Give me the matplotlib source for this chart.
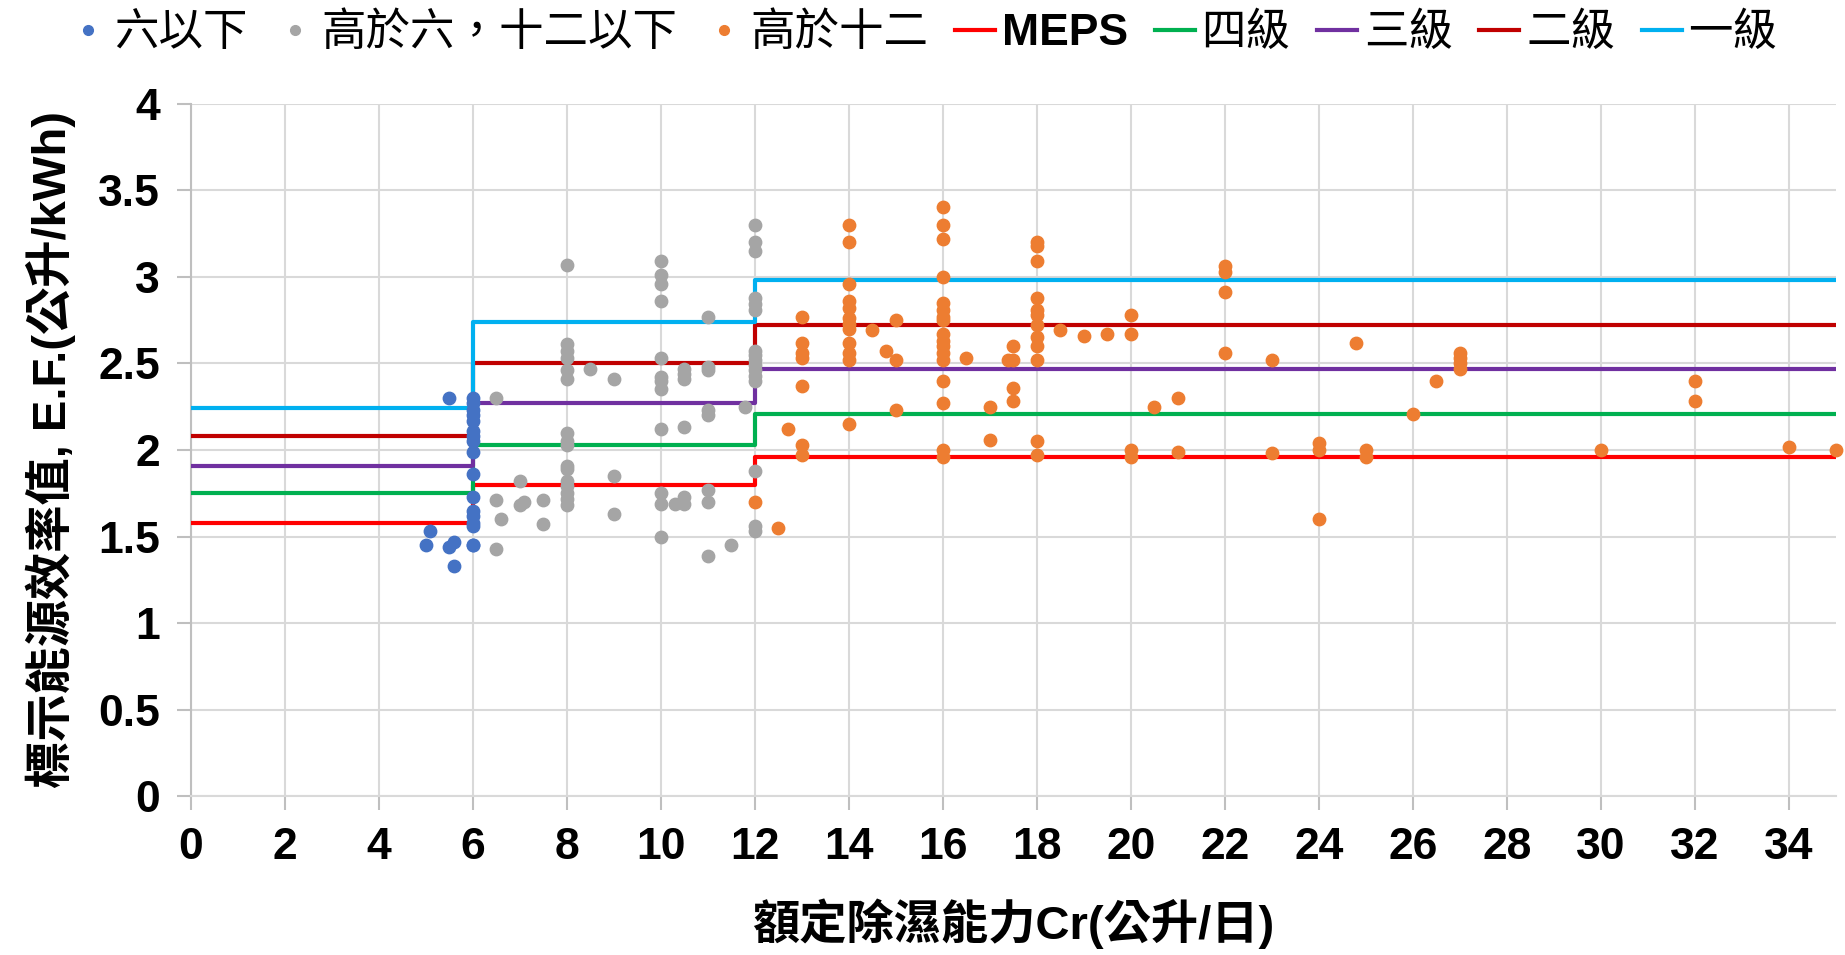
import matplotlib
matplotlib.use('Agg')
import matplotlib.pyplot as plt
from matplotlib.lines import Line2D

plt.rcParams['font.family'] = ['Liberation Sans', 'Noto Sans CJK TC', 'DejaVu Sans']

# capacity bands (公升/日) and efficiency thresholds
band_edges = [0, 6, 12, 35]
meps = [1.58, 1.80, 1.96]
level4 = [1.75, 2.03, 2.21]
level3 = [1.91, 2.27, 2.47]
level2 = [2.08, 2.50, 2.72]
level1 = [2.24, 2.74, 2.98]

# 六以下
low_x = [5.5, 6, 6, 6, 6, 6, 6, 6, 6, 6, 6, 6, 6, 6, 6, 6, 6, 6,
         5.1, 5.0, 5.6, 5.5, 5.6]
low_y = [2.30, 2.30, 2.27, 2.23, 2.20, 2.17, 2.11, 2.08, 2.05, 1.99, 1.86, 1.73,
         1.65, 1.62, 1.58, 1.56, 1.45, 1.45,
         1.53, 1.45, 1.47, 1.44, 1.33]

# 高於六，十二以下
mid_x = [6.5, 7.0, 6.5, 6.6, 7.0, 7.1, 7.5, 7.5, 6.5,
         8, 8, 8, 8, 8, 8, 8, 8, 8, 8, 8, 8, 8, 8, 8, 8,
         8.5, 9.0, 9.0, 9.0,
         10, 10, 10, 10, 10, 10, 10, 10, 10, 10, 10, 10,
         10.3, 10.5, 10.5, 10.5, 10.5, 10.5, 10.5,
         11, 11, 11, 11, 11, 11, 11, 11,
         11.5, 11.8,
         12, 12, 12, 12, 12, 12, 12, 12, 12, 12, 12, 12, 12, 12, 12, 12]
mid_y = [2.30, 1.82, 1.71, 1.60, 1.68, 1.70, 1.71, 1.57, 1.43,
         3.07, 2.61, 2.57, 2.53, 2.46, 2.41, 2.10, 2.05, 2.03, 1.91, 1.89, 1.82,
         1.79, 1.75, 1.72, 1.68,
         2.47, 2.41, 1.85, 1.63,
         3.09, 3.01, 2.96, 2.86, 2.53, 2.42, 2.40, 2.35, 2.12, 1.75, 1.69, 1.50,
         1.69, 2.47, 2.44, 2.41, 2.13, 1.73, 1.69,
         2.77, 2.48, 2.46, 2.23, 2.20, 1.77, 1.70, 1.39,
         1.45, 2.25,
         3.30, 3.20, 3.15, 2.88, 2.84, 2.81, 2.57, 2.55, 2.52, 2.49, 2.46, 2.43,
         2.40, 1.88, 1.56, 1.53]

# 高於十二
high_x = [12, 12.5, 12.7,
          13, 13, 13, 13, 13, 13, 13,
          14, 14, 14, 14, 14, 14, 14, 14, 14, 14, 14, 14,
          14.5, 14.8, 15, 15, 15,
          16, 16, 16, 16, 16, 16, 16, 16, 16, 16, 16, 16, 16, 16, 16, 16, 16,
          16.5, 17, 17, 17.4, 17.5, 17.5, 17.5, 17.5,
          18, 18, 18, 18, 18, 18, 18, 18, 18, 18, 18, 18,
          18.5, 19, 19.5, 20, 20, 20, 20, 20.5, 21, 21,
          22, 22, 22, 22, 23, 23, 24, 24, 24, 24.8, 25, 25,
          26, 26.5, 27, 27, 27, 27, 30, 32, 32, 34, 35]
high_y = [1.70, 1.55, 2.12,
          2.77, 2.62, 2.56, 2.53, 2.37, 2.03, 1.97,
          3.30, 3.20, 2.96, 2.86, 2.82, 2.76, 2.73, 2.70, 2.62, 2.56, 2.52, 2.15,
          2.69, 2.57, 2.75, 2.52, 2.23,
          3.40, 3.30, 3.22, 3.00, 2.85, 2.81, 2.77, 2.75, 2.67, 2.63, 2.60, 2.56,
          2.52, 2.40, 2.27, 2.00, 1.96,
          2.53, 2.25, 2.06, 2.52, 2.60, 2.52, 2.36, 2.28,
          3.20, 3.18, 3.09, 2.88, 2.81, 2.78, 2.72, 2.65, 2.60, 2.52, 2.05, 1.97,
          2.69, 2.66, 2.67, 2.78, 2.67, 2.00, 1.96, 2.25, 2.30, 1.99,
          3.06, 3.03, 2.91, 2.56, 2.52, 1.98, 2.04, 2.00, 1.60, 2.62, 2.00, 1.96,
          2.21, 2.40, 2.56, 2.53, 2.50, 2.47, 2.00, 2.40, 2.28, 2.02, 2.00]

x_ticks = list(range(0, 35, 2))
y_ticks = [0, 0.5, 1, 1.5, 2, 2.5, 3, 3.5, 4]
y_labels = ['0', '0.5', '1', '1.5', '2', '2.5', '3', '3.5', '4']

fig = plt.figure(figsize=(18.45, 9.55), dpi=100)
ax = fig.add_axes([0.1033, 0.166, 0.8917, 0.7256])

# step lines for each band
line_specs = [('MEPS', meps, '#FF0000'), ('四級', level4, '#00B050'),
              ('三級', level3, '#7030A0'), ('二級', level2, '#C00000'),
              ('一級', level1, '#00B0F0')]
for name, vals, col in line_specs:
    ax.step(band_edges, vals + [vals[-1]], where='post', color=col, lw=3, zorder=3)

ax.scatter(low_x, low_y, s=80, color='#4472C4', zorder=4, clip_on=False)
ax.scatter(mid_x, mid_y, s=80, color='#A5A5A5', zorder=4, clip_on=False)
ax.scatter(high_x, high_y, s=80, color='#ED7D31', zorder=4, clip_on=False)

ax.set_xlim(0, 35)
ax.set_ylim(0, 4)
ax.set_xticks(x_ticks)
ax.set_yticks(y_ticks)
ax.set_yticklabels(y_labels)
ax.grid(True, color='#D9D9D9', lw=1.5)
ax.set_axisbelow(True)
for s in ['top', 'right']:
    ax.spines[s].set_visible(False)
ax.spines['left'].set_color('#BFBFBF')
ax.spines['bottom'].set_color('#D9D9D9')
ax.spines['left'].set_linewidth(1.5)
ax.spines['bottom'].set_linewidth(1.5)
ax.tick_params(axis='both', length=10, width=1.5, color='#BFBFBF', labelsize=32, pad=12)
for lab in ax.get_xticklabels() + ax.get_yticklabels():
    lab.set_fontweight('bold')

ax.set_xlabel('額定除濕能力Cr(公升/日)', fontsize=34, fontweight='bold', labelpad=22)
ax.set_ylabel('標示能源效率值, E.F.(公升/kWh)', fontsize=34, fontweight='bold', labelpad=16)

handles = [
    Line2D([], [], ls='none', marker='o', ms=7, color='#4472C4'),
    Line2D([], [], ls='none', marker='o', ms=7, color='#A5A5A5'),
    Line2D([], [], ls='none', marker='o', ms=7, color='#ED7D31'),
]
names = ['六以下', '高於六，十二以下', '高於十二']
for name, vals, col in line_specs:
    handles.append(Line2D([], [], color=col, lw=3))
    names.append(name)
leg = fig.legend(handles, names, loc='center', bbox_to_anchor=(0.5, 0.965), ncol=8,
                 frameon=False, fontsize=32, handlelength=0.9, handletextpad=0.15,
                 columnspacing=0.6, borderpad=0)
for t in leg.get_texts():
    if t.get_text() == 'MEPS':
        t.set_fontweight('bold')
    else:
        t.set_fontweight('medium')

fig.savefig('out.png', dpi=100)
